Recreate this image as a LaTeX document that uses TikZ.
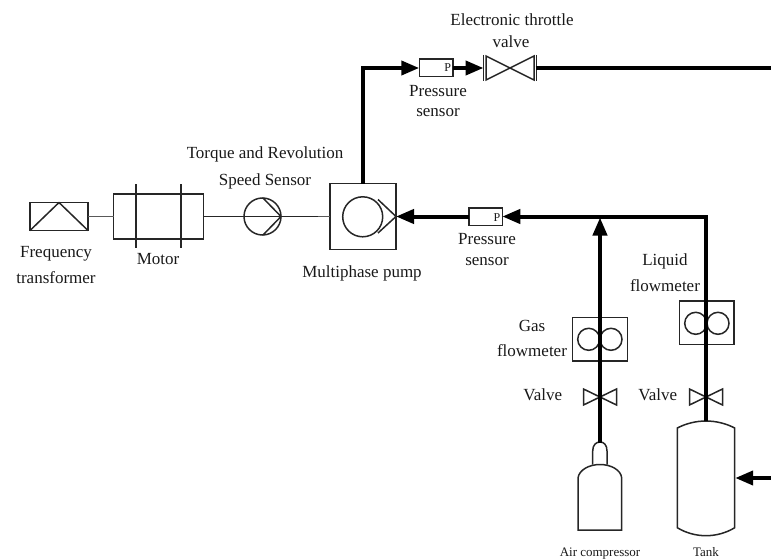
\documentclass[tikz,border=0pt]{standalone}
\usepackage{fontspec}
\setmainfont{Liberation Serif}
\usetikzlibrary{arrows.meta}
\tikzset{
  thinline/.style={line width=1.5pt,draw=black!85},
  hairline/.style={line width=1.1pt,draw=black!65},
  pipe/.style={line width=4pt,draw=black},
  pipearrow/.style={line width=4pt,draw=black,-{Triangle[length=18pt,width=14pt]}},
  box/.style={thinline,rectangle,inner sep=0pt,outer sep=0pt},
  disc/.style={thinline,circle,inner sep=0pt,outer sep=0pt},
  lbl/.style={font=\fontsize{17}{17}\selectfont,inner sep=0pt,text=black!90,anchor=base},
  smalllbl/.style={font=\fontsize{13}{13}\selectfont,inner sep=0pt,text=black!90,anchor=base},
  plabel/.style={font=\fontsize{12}{12}\selectfont,inner sep=0pt,text=black!90,anchor=base},
}
\begin{document}
\begin{tikzpicture}[x=1pt,y=-1pt]
\useasboundingbox (0,0) rectangle (771,559);
% components
\node[box,minimum width=58pt,minimum height=28pt] (freq) at (59,216.5) {};
\draw[thinline,line join=bevel] (freq.south west) -- (freq.north) -- (freq.south east);
\node[box,minimum width=90pt,minimum height=45pt] (motor) at (158.5,216.5) {};
\draw[thinline] (136,184) -- (136,248) (181,184) -- (181,248);
\node[disc,minimum size=37pt] (speed) at (262.5,216.5) {};
\draw[thinline] (263,198) -- (281,216.5) -- (263,235);
\node[box,minimum width=66pt,minimum height=66pt] (pump) at (363,216.5) {};
\node[disc,minimum size=40pt] (rotor) at (362.7,216.8) {};
\draw[thinline] (378,199.5) -- (396,216.5) -- (378,233);
% thin connectors
\draw[hairline] (freq.east) -- (motor.west);
\draw[thinline] (motor.east) -- (speed.east);
\draw[thinline] (speed.east) -- (318,216.5);
\draw[hairline] (318,216.5) -- (pump.west);
% sensors
\node[box,minimum width=33.5pt,minimum height=17.5pt] (psa) at (436,68) {};
\node[plabel] (pa) at (447.7,72) {P};
\node[box,minimum width=33.5pt,minimum height=17.5pt] (psb) at (485.5,216.5) {};
\node[plabel] (pb) at (497,221) {P};
% throttle valve
\coordinate (tv) at (510,68);
\coordinate (tvin) at (483.5,68);
\coordinate (tvout) at (535.5,68);
\draw[thinline,line join=miter] (tv) -- (486,56) -- (486,80) -- cycle;
\draw[thinline,line join=miter] (tv) -- (534,56) -- (534,80) -- cycle;
\draw[thinline] (483.5,55) -- (483.5,81) (536.5,55) -- (536.5,81);
% flowmeters
\node[box,minimum width=55pt,minimum height=43.5pt] (gasfm) at (599.8,339.3) {};
\node[disc,minimum size=22pt] (gasa) at (588.7,339.3) {};
\node[disc,minimum size=22pt] (gasb) at (611,339.3) {};
\node[box,minimum width=54.5pt,minimum height=43.5pt] (liqfm) at (706.7,322.7) {};
\node[disc,minimum size=22pt] (liqa) at (695.7,323.3) {};
\node[disc,minimum size=22pt] (liqb) at (718,323.3) {};
% hand valves
\coordinate (gv) at (600,397);
\draw[thinline,line join=miter] (gv) -- (583.5,389) -- (583.5,405) -- cycle;
\draw[thinline,line join=miter] (gv) -- (616.5,389) -- (616.5,405) -- cycle;
\coordinate (lv) at (706,397);
\draw[thinline,line join=miter] (lv) -- (689.5,389) -- (689.5,405) -- cycle;
\draw[thinline,line join=miter] (lv) -- (722.5,389) -- (722.5,405) -- cycle;
% air compressor
\coordinate (airtop) at (600,443);
\draw[thinline] (578,530) -- (578,478) .. controls (579,470) and (589,464.5) .. (600,464.5)
   .. controls (611,464.5) and (621,470) .. (621.7,478) -- (621.7,530) -- cycle;
\draw[thinline] (592.7,464.5) -- (592.7,451) .. controls (592.7,445) and (596,442) .. (600,442)
   .. controls (604,442) and (607,445) .. (607,451) -- (607,464.5);
% tank
\coordinate (tanktop) at (706,421);
\coordinate (tankside) at (735.2,478);
\draw[thinline] (677.3,428) .. controls (686,423.5) and (696,421) .. (706,421)
   .. controls (716,421) and (726,423.5) .. (734.7,428) -- (734.7,527.7)
   .. controls (726,533) and (716,535.7) .. (706,535.7)
   .. controls (696,535.7) and (686,533) .. (677.3,527.7) -- cycle;
% pipes
\coordinate (east1) at (771,68);
\coordinate (east2) at (771,478);
\coordinate (junction) at (600,217.5);
\draw[pipearrow,line join=miter] (pump.north) |- (psa.west);
\draw[pipearrow] (psa.east) -- (tvin);
\draw[pipe] (tvout) -- (east1);
\draw[pipearrow,line join=miter] (tanktop) |- (psb.east);
\draw[pipearrow] (psb.west) -- (pump.east);
\draw[pipearrow] (airtop) -- (junction);
\draw[pipearrow] (east2) -- (tankside);
% labels
\node[lbl] (t1) at (56,257) {Frequency};
\node[lbl] (t2) at (56,283) {transformer};
\node[lbl] (t3) at (158,264) {Motor};
\node[lbl] (t4) at (265,158) {Torque and Revolution};
\node[lbl] (t5) at (265,185) {Speed Sensor};
\node[lbl] (t6) at (362,277) {Multiphase pump};
\node[lbl] (t7) at (512,26) {Electronic throttle};
\node[lbl] (t8) at (511,47.5) {valve};
\node[lbl] (t9) at (438,96.7) {Pressure};
\node[lbl] (t10) at (438,116.7) {sensor};
\node[lbl] (t11) at (487,244) {Pressure};
\node[lbl] (t12) at (487,265) {sensor};
\node[lbl] (t13) at (665,265.7) {Liquid};
\node[lbl] (t14) at (665,291.7) {flowmeter};
\node[lbl] (t15) at (532,331.7) {Gas};
\node[lbl] (t16) at (532,356.7) {flowmeter};
\node[lbl] (t17) at (542.7,400) {Valve};
\node[lbl] (t18) at (657.7,400) {Valve};
\node[smalllbl] (t19) at (600,556.7) {Air compressor};
\node[smalllbl] (t20) at (706,556.7) {Tank};
\end{tikzpicture}
\end{document}
